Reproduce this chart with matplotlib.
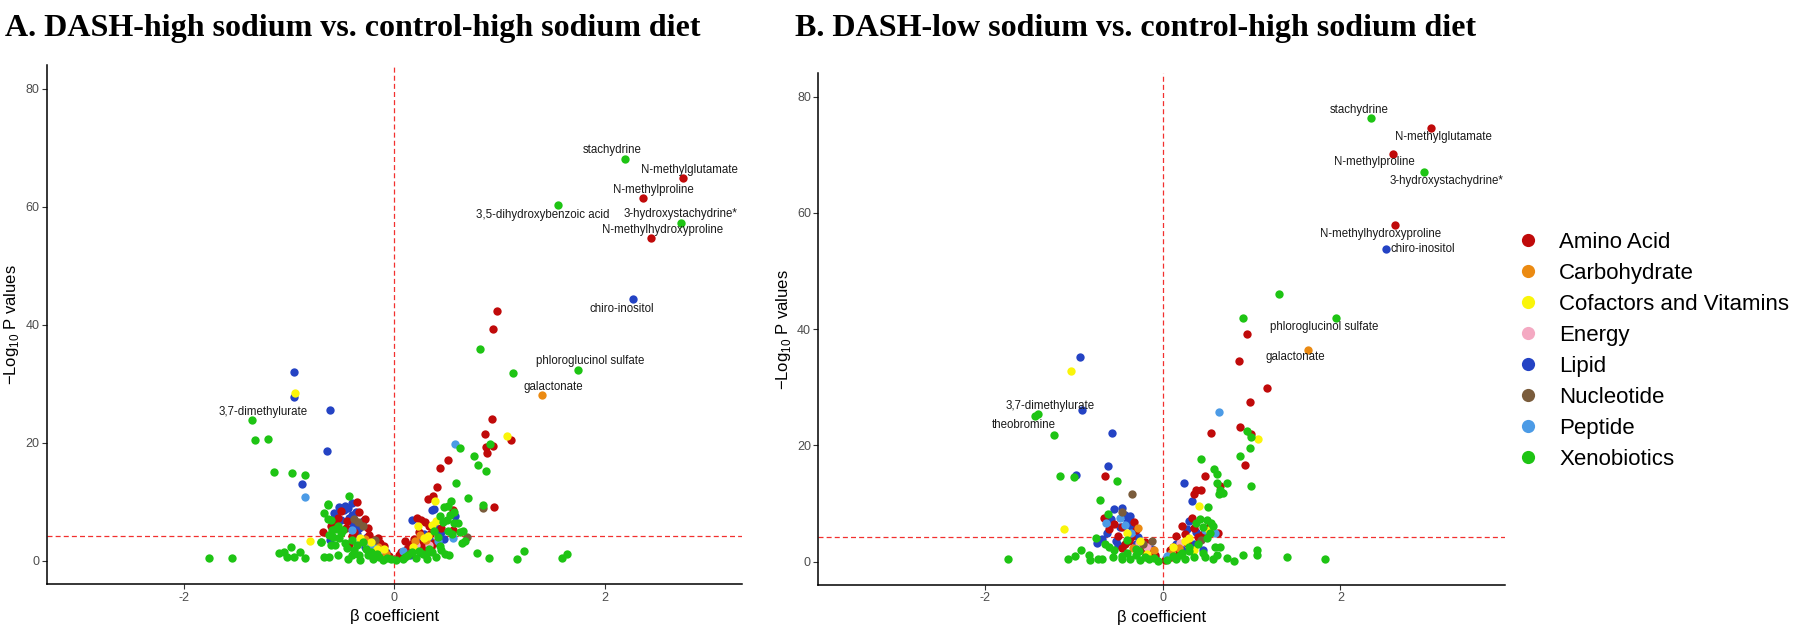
import matplotlib
matplotlib.use("Agg")
from matplotlib import pyplot as plt
from matplotlib.lines import Line2D

plt.rcParams["font.family"] = "Liberation Sans"
plt.rcParams["mathtext.fontset"] = "custom"
plt.rcParams["mathtext.rm"] = "Liberation Sans"
plt.rcParams["axes.unicode_minus"] = False

# ---------------------------------------------------------------- classes
classes = ["Amino Acid", "Carbohydrate", "Cofactors and Vitamins", "Energy",
           "Lipid", "Nucleotide", "Peptide", "Xenobiotics"]
class_colors = ["#C00A0A", "#EB8A12", "#FAF50A", "#F4A9C2",
                "#2443C4", "#7A5C3C", "#4C9BE6", "#1EC414"]
draw_order = ["Lipid", "Amino Acid", "Energy", "Carbohydrate", "Peptide",
              "Nucleotide", "Cofactors and Vitamins", "Xenobiotics"]

threshold = 4.25

# ---------------------------------------------------------------- panel A: DASH-high sodium
a_named = ["stachydrine", "N-methylglutamate", "N-methylproline",
           "3,5-dihydroxybenzoic acid", "3-hydroxystachydrine*",
           "N-methylhydroxyproline", "chiro-inositol", "phloroglucinol sulfate",
           "galactonate", "3,7-dimethylurate"]
a_named_beta = [2.19, 2.74, 2.36, 1.56, 2.72, 2.44, 2.27, 1.75, 1.40, -1.35]
a_named_logp = [68.0, 64.9, 61.5, 60.2, 57.2, 54.6, 44.3, 32.3, 28.0, 23.8]
a_named_class = ["Xenobiotics", "Amino Acid", "Amino Acid", "Xenobiotics",
                 "Xenobiotics", "Amino Acid", "Lipid", "Xenobiotics",
                 "Carbohydrate", "Xenobiotics"]

a_amino = [(0.98, 42.3), (0.94, 39.2), (0.93, 24.0), (0.86, 21.5), (1.11, 20.5),
           (0.94, 19.5), (0.87, 19.2), (0.88, 18.3), (0.51, 17.1), (0.44, 15.7),
           (0.41, 12.5), (0.37, 10.9), (0.32, 10.4), (0.95, 9.1), (0.56, 8.6),
           (0.26, 6.9), (0.29, 6.5), (0.56, 5.2), (0.22, 7.2), (0.33, 5.8),
           (0.10, 3.3), (0.19, 3.7), (0.14, 2.6), (0.25, 2.8), (0.30, 3.2),
           (0.07, 1.5), (0.20, 2.0), (0.35, 2.4),
           (0.12, 1.9), (0.18, 3.0), (0.24, 4.9), (0.34, 4.5), (0.45, 5.5),
           (0.05, 0.9), (0.27, 2.2), (0.38, 3.0),
           (-0.35, 9.9), (-0.56, 6.4), (-0.53, 7.2), (-0.68, 4.9), (-0.28, 7.0),
           (-0.43, 2.9), (-0.24, 4.4), (-0.13, 3.0), (-0.46, 5.5), (-0.18, 2.2),
           (-0.31, 3.6), (-0.09, 1.4), (-0.38, 4.8), (-0.21, 2.9), (-0.05, 0.8),
           (-0.45, 6.8), (-0.50, 8.5), (-0.60, 5.8), (-0.33, 8.2), (-0.25, 5.5),
           (-0.15, 3.8), (-0.40, 4.2), (-0.10, 2.5)]
a_carb = [(-0.15, 2.3), (0.30, 3.5), (0.25, 4.3), (-0.08, 1.1), (-0.28, 3.6),
          (0.20, 3.3)]
a_cofactor = [(-0.94, 28.4), (-0.80, 3.3), (1.07, 21.2), (0.39, 10.1), (0.40, 6.8),
              (0.23, 5.9), (-0.22, 3.1), (0.32, 4.2), (-0.10, 1.9), (0.18, 2.4),
              (-0.32, 3.9), (-0.16, 2.0), (0.36, 6.0), (0.28, 3.9)]
a_energy = [(-0.12, 1.8), (0.21, 2.7), (-0.26, 2.6), (0.33, 2.7)]
a_lipid = [(-0.95, 32.0), (-0.95, 27.7), (-0.61, 25.5), (-0.64, 18.6), (-0.87, 13.0),
           (-0.52, 9.1), (-0.47, 9.3), (-0.40, 9.8), (-0.57, 8.0), (-0.36, 8.3),
           (-0.56, 7.6), (-0.40, 7.8), (-0.39, 6.1), (-0.61, 3.5), (-0.26, 4.1),
           (-0.24, 3.4), (-0.44, 8.9), (-0.33, 5.6), (-0.15, 2.5), (-0.20, 1.6),
           (-0.50, 6.9), (-0.48, 8.6), (-0.43, 7.2), (-0.30, 6.8), (-0.35, 4.6),
           (-0.18, 2.9), (-0.28, 2.3), (-0.08, 1.5),
           (0.38, 8.7), (0.58, 7.5), (0.17, 6.9), (0.36, 8.6), (0.47, 3.6),
           (0.12, 2.0), (0.28, 4.6), (0.05, 0.6), (0.40, 5.6), (0.22, 3.2),
           (0.33, 3.7), (0.45, 4.9), (0.15, 1.0), (0.26, 1.5)]
a_nucleotide = [(0.84, 8.9), (0.69, 4.1), (-0.34, 6.5), (-0.30, 5.8), (-0.18, 3.5),
                (0.15, 1.3), (-0.38, 7.1)]
a_peptide = [(-0.85, 10.8), (0.58, 19.8), (0.56, 3.8), (-0.22, 2.8), (0.08, 1.7),
             (-0.40, 5.2), (-0.20, 2.3), (0.42, 3.3)]
a_xeno = [(0.82, 35.8), (1.13, 31.8), (0.91, 19.7), (0.63, 19.1), (0.76, 17.7),
          (0.80, 16.3), (0.87, 15.2), (0.59, 13.1), (0.70, 10.7), (0.54, 10.1),
          (0.51, 9.2), (0.84, 9.4), (0.57, 8.2), (0.46, 6.6), (0.50, 6.9),
          (0.61, 6.4), (0.65, 5.0), (0.67, 3.3), (0.47, 9.1), (0.53, 7.8),
          (0.57, 6.4), (0.51, 5.0), (0.64, 3.0), (0.63, 4.9), (0.52, 1.0),
          (0.79, 1.3), (0.90, 0.5), (1.17, 0.3), (1.23, 1.7), (1.59, 0.5),
          (1.64, 1.1), (0.02, 0.2), (0.08, 0.3), (0.21, 0.5), (0.31, 0.3),
          (0.40, 0.7), (0.48, 1.1), (0.44, 2.5), (0.36, 1.5), (0.13, 0.9),
          (0.27, 1.2), (0.42, 4.0), (0.10, 0.6), (0.17, 1.5), (0.24, 1.7),
          (0.33, 2.0), (0.38, 5.0), (0.55, 4.5), (0.44, 7.6), (0.30, 0.9),
          (0.45, 1.8),
          (-1.32, 20.5), (-1.20, 20.7), (-1.14, 15.0), (-0.97, 14.8), (-0.85, 14.6),
          (-1.76, 0.4), (-1.54, 0.4), (-1.09, 1.3), (-1.05, 1.5), (-0.98, 2.3),
          (-1.02, 0.7), (-0.95, 0.7), (-0.89, 1.5), (-0.85, 0.4), (-0.69, 3.2),
          (-0.67, 8.1), (-0.63, 9.5), (-0.62, 0.6), (-0.67, 0.6), (-0.60, 2.7),
          (-0.59, 5.2), (-0.60, 6.9), (-0.53, 5.8), (-0.50, 4.7), (-0.53, 1.0),
          (-0.44, 0.3), (-0.40, 1.0), (-0.33, 1.0), (-0.32, 0.2), (-0.40, 3.5),
          (-0.43, 10.9), (-0.63, 9.6), (-0.63, 7.0), (-0.69, 3.1), (-0.20, 0.3),
          (-0.11, 0.2), (-0.03, 0.3), (-0.49, 5.2), (-0.56, 5.3), (-0.27, 2.0),
          (-0.16, 1.2), (-0.35, 2.6), (-0.47, 3.0), (-0.56, 2.6), (-0.58, 4.0),
          (-0.45, 2.2), (-0.38, 1.8), (-0.25, 1.0), (-0.14, 0.7), (-0.07, 0.5),
          (-0.52, 3.8), (-0.30, 3.1), (-0.22, 1.5), (-0.62, 4.3)]

# ---------------------------------------------------------------- panel B: DASH-low sodium
b_named = ["stachydrine", "N-methylglutamate", "N-methylproline",
           "3-hydroxystachydrine*", "N-methylhydroxyproline", "chiro-inositol",
           "phloroglucinol sulfate", "galactonate", "3,7-dimethylurate",
           "theobromine"]
b_named_beta = [2.34, 3.02, 2.59, 2.94, 2.61, 2.51, 1.95, 1.63, -1.40, -1.43]
b_named_logp = [76.3, 74.6, 70.2, 67.0, 57.9, 53.7, 41.9, 36.5, 25.4, 25.0]
b_named_class = ["Xenobiotics", "Amino Acid", "Amino Acid", "Xenobiotics",
                 "Amino Acid", "Lipid", "Xenobiotics", "Carbohydrate",
                 "Xenobiotics", "Xenobiotics"]

b_amino = [(0.95, 39.1), (0.86, 34.5), (1.17, 29.8), (0.98, 27.4), (0.87, 23.2),
           (0.54, 22.2), (1.00, 22.0), (0.93, 16.7), (0.48, 14.7), (0.65, 13.0),
           (0.38, 12.3), (0.43, 12.3), (0.35, 11.7), (0.33, 7.6), (0.62, 5.0),
           (0.22, 6.2), (0.15, 4.5), (0.28, 3.3), (0.08, 2.0), (0.40, 4.2),
           (0.03, 0.3), (0.12, 2.6), (0.25, 4.8), (0.35, 5.8), (0.45, 4.8),
           (0.18, 1.8), (0.52, 6.0), (0.10, 0.8),
           (-0.65, 14.8), (-0.66, 7.5), (-0.60, 5.7), (-0.35, 4.2),
           (-0.42, 3.0), (-0.25, 2.8), (-0.15, 1.8), (-0.30, 5.5), (-0.50, 4.5),
           (-0.08, 1.2), (-0.20, 3.4), (-0.45, 6.0), (-0.55, 6.5), (-0.38, 3.5),
           (-0.22, 2.0), (-0.12, 1.5), (-0.32, 6.8), (-0.45, 2.3)]
b_carb = [(-0.28, 5.8), (0.10, 1.5), (-0.10, 2.0), (-0.33, 2.4), (0.18, 2.3)]
b_cofactor = [(-1.03, 32.8), (1.07, 21.1), (0.41, 9.6), (-1.11, 5.6), (0.52, 5.5),
              (-0.25, 3.5), (0.12, 2.6), (0.30, 4.0), (-0.40, 5.0), (-0.18, 1.4),
              (0.25, 3.5), (0.35, 2.0)]
b_energy = [(-0.18, 2.6), (0.20, 3.2), (-0.27, 3.2)]
b_lipid = [(-0.93, 35.2), (-0.91, 26.1), (-0.565, 22.1), (-0.61, 16.5), (-0.97, 14.9),
           (-0.55, 9.0), (-0.45, 9.2), (-0.37, 7.8), (-0.74, 3.3), (-0.68, 3.9),
           (-0.40, 6.8), (-0.48, 5.9), (-0.28, 4.2), (-0.12, 2.2), (-0.52, 3.5),
           (-0.58, 7.3), (-0.42, 8.0), (-0.35, 6.2), (-0.30, 3.0), (-0.20, 2.6),
           (-0.62, 5.0), (-0.50, 2.8), (-0.08, 0.9),
           (0.24, 13.6), (0.33, 10.4), (0.30, 7.0), (0.15, 3.0), (0.38, 5.2),
           (0.22, 2.0), (0.20, 2.6), (0.35, 3.0), (0.28, 5.6), (0.45, 2.0),
           (0.08, 1.4)]
b_nucleotide = [(-0.34, 11.7), (-0.45, 8.5), (0.43, 3.8), (-0.12, 3.5), (-0.22, 3.0)]
b_peptide = [(0.64, 25.8), (-0.48, 7.5), (-0.64, 6.6), (0.59, 4.9), (-0.35, 5.0),
             (0.05, 1.0), (-0.42, 6.4), (0.48, 5.4)]
b_xeno = [(1.31, 46.1), (0.90, 41.9), (-1.22, 21.8), (0.95, 22.4), (0.99, 21.4),
          (0.98, 19.6), (0.87, 18.2), (0.43, 17.6), (0.58, 15.9), (0.61, 15.1),
          (-1.15, 14.7), (-0.99, 14.6), (-0.51, 13.9), (0.61, 13.6), (0.72, 13.6),
          (0.99, 13.0), (0.65, 12.3), (0.68, 11.9), (0.64, 11.7), (-0.70, 10.7),
          (0.51, 9.4), (-0.61, 8.2), (-0.75, 4.0), (0.42, 7.3), (0.50, 7.1),
          (0.55, 6.6), (0.59, 2.5), (0.46, 6.0), (0.57, 6.2),
          (-1.74, 0.4), (-1.06, 0.5), (-0.98, 1.0), (-0.92, 2.0), (-0.83, 1.1),
          (-0.81, 0.3), (-0.73, 0.5), (-0.68, 0.5), (-0.56, 0.8), (-0.46, 0.5),
          (-0.37, 0.5), (0.91, 1.1), (1.06, 2.1), (1.06, 1.2), (1.40, 0.8),
          (1.83, 0.5), (0.72, 0.7), (0.80, 0.2), (0.61, 1.1), (0.65, 2.5),
          (0.57, 0.5), (0.48, 0.8), (-0.25, 0.3), (-0.15, 0.5), (-0.05, 0.2),
          (0.05, 0.3), (0.15, 0.5), (0.25, 0.4), (0.35, 0.8), (-0.60, 2.5),
          (-0.40, 1.5), (0.30, 1.8), (-0.30, 2.2), (0.20, 1.2),
          (-0.55, 2.0), (-0.45, 1.0), (-0.30, 1.2), (-0.20, 0.8), (-0.10, 0.6),
          (-0.65, 3.0), (-0.40, 3.8), (-0.26, 1.8), (0.12, 1.0), (0.22, 1.5),
          (0.30, 2.5), (0.40, 3.0), (0.50, 4.0), (0.53, 5.0), (0.38, 6.7),
          (0.45, 1.5)]

a_points = dict(zip(classes, [a_amino, a_carb, a_cofactor, a_energy,
                              a_lipid, a_nucleotide, a_peptide, a_xeno]))
b_points = dict(zip(classes, [b_amino, b_carb, b_cofactor, b_energy,
                              b_lipid, b_nucleotide, b_peptide, b_xeno]))

# label placement (offset from point in pixels, horizontal alignment)
a_label_pos = [(-13, 9, "center"), (7, 8, "center"), (11, 8, "center"),
               (-16, -10, "center"), (0, 9, "center"), (12, 8, "center"),
               (-11, -10, "center"), (12, 9, "center"), (12, 8, "center"),
               (11, 8, "center")]
b_label_pos = [(-11, 8, "center"), (12, -9, "center"), (-19, -8, "center"),
               (22, -9, "center"), (-14, -9, "center"), (5, 0, "left"),
               (-12, -9, "center"), (-12, -7, "center"), (12, 8, "center"),
               (-11, -9, "center")]

color_of = dict(zip(classes, class_colors))


def draw_panel(ax, points, named, nbeta, nlogp, nclass, label_pos):
    for cls in draw_order:
        pts = list(points[cls])
        pts += [(b, p) for b, p, c in zip(nbeta, nlogp, nclass) if c == cls]
        if not pts:
            continue
        xs, ys = zip(*pts)
        ax.scatter(xs, ys, s=36, color=color_of[cls], linewidths=0, zorder=3)

    ax.axvline(0, color="#F2302F", lw=0.9, ls=(0, (4, 2.5)), zorder=2)
    ax.axhline(threshold, color="#F2302F", lw=0.9, ls=(0, (4, 2.5)), zorder=2)

    for name, b, p, (dx, dy, ha) in zip(named, nbeta, nlogp, label_pos):
        ax.annotate(name, (b, p), xytext=(dx, dy), textcoords="offset pixels",
                    ha=ha, va="center", fontsize=8.3, color="#1A1A1A", zorder=4)

    ax.set_ylim(-4, 84)
    ax.set_xticks([-2, 0, 2])
    ax.set_yticks([0, 20, 40, 60, 80])
    ax.spines[["top", "right"]].set_visible(False)
    for sp in ("left", "bottom"):
        ax.spines[sp].set_linewidth(1.1)
    ax.tick_params(length=3.3, width=0.8, color="#333333", labelcolor="#4D4D4D",
                   labelsize=9, pad=2)
    ax.set_xlabel("β coefficient", fontsize=12)
    ax.set_ylabel("−Log$_{10}$ P values", fontsize=12)
    ax.xaxis.set_label_coords(0.5, -0.048)
    ax.yaxis.set_label_coords(-0.037, 0.5)


fig = plt.figure(figsize=(18, 6.26), dpi=100)
ax_a = fig.add_axes([0.0259, 0.0666, 0.3861, 0.8296])
ax_b = fig.add_axes([0.4546, 0.0655, 0.3815, 0.8174])

draw_panel(ax_a, a_points, a_named, a_named_beta, a_named_logp, a_named_class, a_label_pos)
ax_a.set_xlim(-3.3, 3.3)
draw_panel(ax_b, b_points, b_named, b_named_beta, b_named_logp, b_named_class, b_label_pos)
ax_b.set_xlim(-3.87, 3.85)

title_font = dict(family="Liberation Serif", weight="bold", fontsize=23, va="baseline")
fig.text(0.003, 1 - 36 / 626, "A. DASH-high sodium vs. control-high sodium diet", **title_font)
fig.text(0.4417, 1 - 36 / 626, "B. DASH-low sodium vs. control-high sodium diet", **title_font)

handles = [Line2D([], [], ls="none", marker="o", markersize=9.5,
                  markerfacecolor=c, markeredgewidth=0) for c in class_colors]
fig.legend(handles, classes, loc="upper left", bbox_to_anchor=(0.8428, 0.6296),
           frameon=False, fontsize=16, handlelength=1.0, handletextpad=0.9,
           labelspacing=0.45, borderpad=0, borderaxespad=0)

fig.savefig("out.png", dpi=100)
